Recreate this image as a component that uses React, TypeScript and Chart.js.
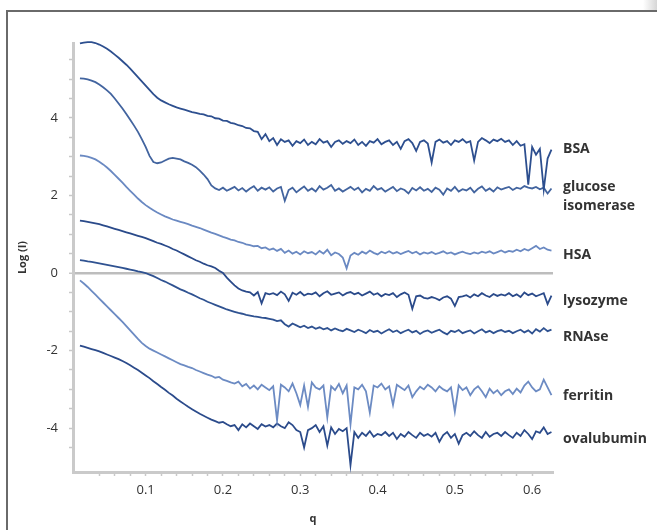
import React, { useEffect, useRef } from 'react';
import { Chart, registerables } from 'chart.js';

Chart.register(...registerables);
Chart.defaults.font.family = '"Open Sans", sans-serif';

// scattering vector q (x axis)
const Q = [
  0.015, 0.02, 0.025, 0.03, 0.035, 0.04, 0.045, 0.05, 0.055, 0.06,
  0.065, 0.07, 0.075, 0.08, 0.085, 0.09, 0.095, 0.1, 0.105, 0.11,
  0.115, 0.12, 0.125, 0.13, 0.135, 0.14, 0.145, 0.15, 0.155, 0.16,
  0.165, 0.17, 0.175, 0.18, 0.185, 0.19, 0.195, 0.2, 0.205, 0.21,
  0.215, 0.22, 0.225, 0.23, 0.235, 0.24, 0.245, 0.25, 0.255, 0.26,
  0.265, 0.27, 0.275, 0.28, 0.285, 0.29, 0.295, 0.3, 0.305, 0.31,
  0.315, 0.32, 0.325, 0.33, 0.335, 0.34, 0.345, 0.35, 0.355, 0.36,
  0.365, 0.37, 0.375, 0.38, 0.385, 0.39, 0.395, 0.4, 0.405, 0.41,
  0.415, 0.42, 0.425, 0.43, 0.435, 0.44, 0.445, 0.45, 0.455, 0.46,
  0.465, 0.47, 0.475, 0.48, 0.485, 0.49, 0.495, 0.5, 0.505, 0.51,
  0.515, 0.52, 0.525, 0.53, 0.535, 0.54, 0.545, 0.55, 0.555, 0.56,
  0.565, 0.57, 0.575, 0.58, 0.585, 0.59, 0.595, 0.6, 0.605, 0.61,
  0.615, 0.62, 0.625,
];

const BSA = [
  5.92, 5.94, 5.95, 5.95, 5.93, 5.89, 5.84, 5.78, 5.71, 5.63,
  5.55, 5.46, 5.37, 5.27, 5.16, 5.05, 4.94, 4.83, 4.72, 4.61,
  4.52, 4.45, 4.40, 4.35, 4.31, 4.27, 4.24, 4.21, 4.18, 4.15,
  4.13, 4.10, 4.09, 4.05, 4.04, 3.99, 3.98, 3.93, 3.92, 3.87,
  3.85, 3.81, 3.79, 3.74, 3.73, 3.66, 3.64, 3.45, 3.58, 3.40,
  3.48, 3.30, 3.45, 3.38, 3.42, 3.28, 3.40, 3.35, 3.44, 3.30,
  3.38, 3.32, 3.45, 3.36, 3.40, 3.25, 3.38, 3.42, 3.33, 3.40,
  3.35, 3.44, 3.30, 3.38, 3.28, 3.40, 3.36, 3.45, 3.32, 3.38,
  3.42, 3.30, 3.38, 3.20, 3.40, 3.45, 3.35, 3.15, 3.38, 3.42,
  3.34, 2.85, 3.38, 3.44, 3.36, 3.40, 3.30, 3.42, 3.38, 3.45,
  3.36, 3.40, 2.90, 3.38, 3.48, 3.42, 3.35, 3.44, 3.40, 3.46,
  3.38, 3.42, 3.30, 3.40, 3.28, 3.32, 2.28, 3.25, 3.05, 3.20,
  2.15, 2.95, 3.18,
];

const GLUCOSE_ISOMERASE = [
  5.02, 5.01, 4.99, 4.96, 4.92, 4.86, 4.79, 4.71, 4.62, 4.50,
  4.37, 4.24, 4.10, 3.95, 3.80, 3.64, 3.45, 3.25, 3.02, 2.86,
  2.83, 2.85, 2.90, 2.95, 2.97, 2.95, 2.93, 2.88, 2.84, 2.79,
  2.73, 2.64, 2.54, 2.42, 2.26, 2.18, 2.14, 2.20, 2.12, 2.17,
  2.22, 2.13, 2.19, 2.10, 2.18, 2.24, 2.12, 2.20, 2.15, 2.21,
  2.10, 2.18, 2.22, 1.86, 2.14, 2.20, 2.08, 2.16, 2.23, 2.12,
  2.18, 2.10, 2.24, 2.15, 2.20, 2.27, 2.12, 2.18, 2.10, 2.16,
  2.22, 2.14, 2.20, 2.08, 2.17, 2.12, 2.24, 2.15, 2.19, 2.10,
  2.16, 2.22, 2.11, 2.18, 2.14, 2.05, 2.19, 2.13, 2.21, 2.12,
  2.17, 2.09, 2.20, 2.15, 2.02, 2.18, 2.12, 2.22, 2.10, 2.16,
  2.13, 2.20, 2.08, 2.17, 2.23, 2.12, 2.18, 2.10, 2.21, 2.15,
  2.19, 2.22, 2.14, 2.20, 2.17, 2.24, 2.20, 2.18, 2.22, 2.16,
  2.20, 2.05, 2.18,
];

const HSA = [
  3.03, 3.02, 3.00, 2.97, 2.93, 2.87, 2.80, 2.72, 2.63, 2.53,
  2.43, 2.33, 2.22, 2.12, 2.02, 1.92, 1.83, 1.75, 1.68, 1.62,
  1.56, 1.51, 1.46, 1.42, 1.38, 1.35, 1.32, 1.29, 1.26, 1.22,
  1.19, 1.16, 1.12, 1.08, 1.04, 1.01, 0.97, 0.93, 0.90, 0.86,
  0.84, 0.80, 0.78, 0.74, 0.72, 0.69, 0.70, 0.64, 0.66, 0.60,
  0.63, 0.57, 0.62, 0.52, 0.58, 0.50, 0.55, 0.48, 0.56, 0.51,
  0.54, 0.48, 0.57, 0.50, 0.60, 0.46, 0.53, 0.49, 0.40, 0.12,
  0.45, 0.52, 0.47, 0.55, 0.50, 0.58, 0.52, 0.48, 0.55, 0.51,
  0.56, 0.50, 0.54, 0.49, 0.53, 0.57, 0.51, 0.55, 0.48, 0.53,
  0.50, 0.54, 0.49, 0.52, 0.56, 0.50, 0.53, 0.48, 0.52, 0.55,
  0.51, 0.49, 0.53, 0.50, 0.55, 0.52, 0.56, 0.50, 0.54, 0.58,
  0.53, 0.57, 0.55, 0.60, 0.56, 0.62, 0.58, 0.64, 0.70, 0.62,
  0.66, 0.60, 0.58,
];

const LYSOZYME = [
  1.35, 1.34, 1.32, 1.30, 1.28, 1.26, 1.23, 1.20, 1.17, 1.14,
  1.11, 1.08, 1.05, 1.02, 0.99, 0.96, 0.93, 0.90, 0.86, 0.82,
  0.78, 0.75, 0.71, 0.67, 0.62, 0.58, 0.53, 0.48, 0.43, 0.38,
  0.33, 0.29, 0.24, 0.20, 0.17, 0.13, 0.06, 0.00, -0.12, -0.22,
  -0.32, -0.40, -0.45, -0.48, -0.50, -0.58, -0.49, -0.78, -0.52, -0.55,
  -0.52, -0.57, -0.48, -0.55, -0.72, -0.51, -0.56, -0.49, -0.58, -0.53,
  -0.55, -0.50, -0.60, -0.52, -0.47, -0.56, -0.53, -0.50, -0.58, -0.52,
  -0.49, -0.55, -0.51, -0.58, -0.53, -0.48, -0.56, -0.52, -0.60, -0.54,
  -0.57, -0.52, -0.62, -0.55, -0.50, -0.56, -0.92, -0.60, -0.58, -0.64,
  -0.66, -0.62, -0.65, -0.70, -0.63, -0.60, -0.66, -0.85, -0.62, -0.60,
  -0.57, -0.63, -0.55, -0.60, -0.52, -0.58, -0.62, -0.54, -0.59, -0.55,
  -0.58, -0.52, -0.60, -0.55, -0.62, -0.50, -0.57, -0.53, -0.60, -0.56,
  -0.52, -0.80, -0.58,
];

const RNASE = [
  0.33, 0.32, 0.30, 0.29, 0.27, 0.25, 0.23, 0.21, 0.19, 0.17,
  0.15, 0.13, 0.11, 0.09, 0.07, 0.04, 0.02, 0.00, -0.04, -0.08,
  -0.13, -0.18, -0.22, -0.27, -0.32, -0.37, -0.42, -0.46, -0.51, -0.55,
  -0.60, -0.65, -0.69, -0.74, -0.78, -0.82, -0.86, -0.90, -0.94, -0.97,
  -1.00, -1.03, -1.05, -1.08, -1.10, -1.12, -1.13, -1.15, -1.16, -1.18,
  -1.20, -1.24, -1.22, -1.32, -1.38, -1.30, -1.35, -1.40, -1.36, -1.42,
  -1.38, -1.44, -1.40, -1.45, -1.42, -1.48, -1.43, -1.47, -1.50, -1.44,
  -1.48, -1.52, -1.46, -1.50, -1.55, -1.47, -1.52, -1.49, -1.56, -1.50,
  -1.45, -1.52, -1.48, -1.55, -1.50, -1.46, -1.53, -1.49, -1.57, -1.51,
  -1.48, -1.54, -1.50, -1.46, -1.53, -1.58, -1.49, -1.52, -1.47, -1.55,
  -1.51, -1.48, -1.56, -1.50, -1.45, -1.53, -1.49, -1.55, -1.50, -1.47,
  -1.52, -1.49, -1.55, -1.50, -1.46, -1.53, -1.48, -1.56, -1.45, -1.51,
  -1.42, -1.50, -1.46,
];

const FERRITIN = [
  -0.19, -0.27, -0.36, -0.46, -0.56, -0.66, -0.76, -0.86, -0.96, -1.06,
  -1.16, -1.26, -1.37, -1.48, -1.59, -1.70, -1.80, -1.88, -1.95, -2.00,
  -2.05, -2.10, -2.15, -2.20, -2.25, -2.30, -2.35, -2.38, -2.42, -2.45,
  -2.50, -2.54, -2.58, -2.62, -2.65, -2.70, -2.68, -2.75, -2.78, -2.82,
  -2.85, -2.80, -2.92, -2.86, -2.98, -2.90, -3.00, -2.88, -2.95, -3.02,
  -2.92, -3.80, -2.88, -2.95, -3.05, -2.85, -3.10, -3.40, -2.90, -3.45,
  -2.82, -2.95, -3.00, -2.90, -3.72, -2.92, -3.02, -2.86, -3.10, -2.90,
  -3.90, -2.95, -3.00, -2.88, -3.05, -3.60, -2.90, -2.95, -2.85, -3.00,
  -2.92, -3.40, -2.88, -2.95, -3.02, -2.90, -3.20, -3.05, -2.93, -3.00,
  -2.88, -2.95, -3.05, -2.92, -3.00, -3.05, -2.95, -3.58, -2.90, -3.02,
  -2.95, -3.15, -3.00, -2.92, -3.05, -3.20, -2.98, -3.10, -3.02, -3.15,
  -3.05, -3.00, -3.12, -2.98, -3.08, -2.90, -2.80, -2.95, -3.05, -3.00,
  -2.75, -2.95, -3.15,
];

const OVALUBUMIN = [
  -1.87, -1.90, -1.93, -1.96, -1.99, -2.02, -2.06, -2.10, -2.14, -2.18,
  -2.22, -2.27, -2.32, -2.38, -2.44, -2.50, -2.57, -2.64, -2.71, -2.79,
  -2.86, -2.94, -3.01, -3.09, -3.16, -3.24, -3.31, -3.38, -3.45, -3.51,
  -3.57, -3.63, -3.68, -3.73, -3.78, -3.82, -3.86, -3.84, -3.90, -3.95,
  -3.92, -4.05, -3.90, -3.98, -3.88, -3.95, -4.02, -3.90, -3.96, -3.92,
  -3.98, -3.88, -3.95, -4.00, -3.85, -3.92, -4.05, -4.10, -4.50, -4.05,
  -4.00, -3.92, -4.10, -3.95, -4.45, -3.98, -4.15, -4.02, -4.08, -4.00,
  -4.95, -4.10, -4.25, -4.12, -4.20, -4.08, -4.22, -4.15, -4.18, -4.10,
  -4.20, -4.12, -4.28, -4.15, -4.22, -4.10, -4.18, -4.25, -4.12, -4.20,
  -4.15, -4.22, -4.12, -4.35, -4.18, -4.10, -4.25, -4.15, -4.40, -4.18,
  -4.12, -4.20, -4.08, -4.18, -4.25, -4.10, -4.22, -4.15, -4.12, -4.20,
  -4.10, -4.18, -4.25, -4.12, -4.20, -4.05, -4.15, -4.28, -4.08, -4.12,
  -3.98, -4.15, -4.10,
];

const SERIES = [BSA, GLUCOSE_ISOMERASE, HSA, LYSOZYME, RNASE, FERRITIN, OVALUBUMIN];
const SERIES_NAMES = ['BSA', 'glucose isomerase', 'HSA', 'lysozyme', 'RNAse', 'ferritin', 'ovalubumin'];
const SERIES_COLORS = ['#2d4f8f', '#42649f', '#6a89c2', '#2a4a8a', '#2f5291', '#6c8bc3', '#2b4b8b'];

// right-hand curve labels and the Log(I) value they sit at
const LABEL_TEXT = ['BSA', 'glucose', 'isomerase', 'HSA', 'lysozyme', 'RNAse', 'ferritin', 'ovalubumin'];
const LABEL_AT = [3.2, 2.21, 1.72, 0.46, -0.73, -1.65, -3.18, -4.27];

const isStep = (v: number, s: number) => Math.abs(v / s - Math.round(v / s)) < 1e-6;

const labelPlugin = {
  id: 'curveLabels',
  afterDraw(chart: any) {
    const { ctx, chartArea, scales } = chart;
    ctx.save();
    ctx.font = 'bold 14px "Open Sans", sans-serif';
    ctx.fillStyle = '#333333';
    ctx.textAlign = 'left';
    ctx.textBaseline = 'middle';
    LABEL_TEXT.forEach((t, i) => {
      ctx.fillText(t, chartArea.right + 10, scales.y.getPixelForValue(LABEL_AT[i]));
    });
    ctx.restore();
  },
};

export default function App() {
  const ref = useRef<HTMLCanvasElement>(null);

  useEffect(() => {
    const canvas = ref.current;
    if (!canvas) return;
    const datasets = SERIES.map((s, i) => ({
      label: SERIES_NAMES[i],
      data: Q.map((q, j) => ({ x: q, y: s[j] })),
      borderColor: SERIES_COLORS[i],
      borderWidth: 1.8,
      pointRadius: 0,
      fill: false,
      tension: 0,
      clip: false,
    }));
    const chart = new Chart(canvas, {
      type: 'line',
      data: { datasets },
      options: {
        responsive: false,
        animation: false,
        devicePixelRatio: 1,
        layout: { padding: { left: 8, top: 43, right: 104, bottom: 0 } },
        plugins: { legend: { display: false }, tooltip: { enabled: false } },
        scales: {
          x: {
            type: 'linear',
            min: 0.006,
            max: 0.627,
            afterFit: (s: any) => { s.height = 58; },
            afterBuildTicks: (s: any) => { s.ticks = s.ticks.filter((t: any) => isStep(t.value, 0.02)); },
            ticks: {
              stepSize: 0.02,
              autoSkip: false,
              maxRotation: 0,
              padding: 6,
              color: '#333333',
              font: { size: 13 },
              callback: (v: any) => (isStep(Number(v), 0.1) ? Number(v).toFixed(1) : ''),
            },
            grid: { drawOnChartArea: false, drawTicks: true, tickLength: 4, tickColor: '#c8c8c8', tickWidth: 1.5 },
            border: { display: true, color: '#cacaca', width: 3 },
            title: { display: true, text: 'q', color: '#333333', font: { size: 11, weight: 'bold' }, padding: { top: 0, bottom: 5 } },
          },
          y: {
            type: 'linear',
            min: -5.13,
            max: 5.93,
            afterFit: (s: any) => { s.width = 65; },
            afterBuildTicks: (s: any) => { s.ticks = s.ticks.filter((t: any) => isStep(t.value, 0.5)); },
            ticks: {
              stepSize: 0.5,
              autoSkip: false,
              padding: 11,
              color: '#333333',
              font: { size: 13 },
              callback: (v: any) => (isStep(Number(v), 2) ? String(Math.round(Number(v))) : ''),
            },
            grid: {
              drawOnChartArea: true,
              drawTicks: true,
              tickLength: 4,
              tickColor: '#c8c8c8',
              tickWidth: 1.5,
              color: (c: any) => (c.tick && Math.abs(c.tick.value) < 1e-9 ? '#bdbdbd' : 'rgba(0,0,0,0)'),
              lineWidth: (c: any) => (c.tick && Math.abs(c.tick.value) < 1e-9 ? 2.5 : 1),
            },
            border: { display: true, color: '#cacaca', width: 3 },
            title: { display: true, text: 'Log (I)', color: '#333333', font: { size: 11, weight: 'bold' }, padding: { top: 8, bottom: 0 } },
          },
        },
      },
      plugins: [labelPlugin],
    } as any);
    return () => chart.destroy();
  }, []);

  return (
    <div style={{ position: 'fixed', left: 0, top: 0, width: 657, height: 530, background: '#ffffff', overflow: 'hidden' }}>
      <div style={{ position: 'absolute', left: 6, top: 10, width: 700, height: 600, borderTop: '2px solid #6a6a6a', borderLeft: '2px solid #6a6a6a' }} />
      <div style={{ position: 'absolute', left: 643, top: 0, width: 14, height: 10, background: 'linear-gradient(to right, #ffffff, #d6d6d6)' }} />
      <canvas ref={ref} width={657} height={530} style={{ position: 'absolute', left: 0, top: 0, width: 657, height: 530 }} />
    </div>
  );
}
